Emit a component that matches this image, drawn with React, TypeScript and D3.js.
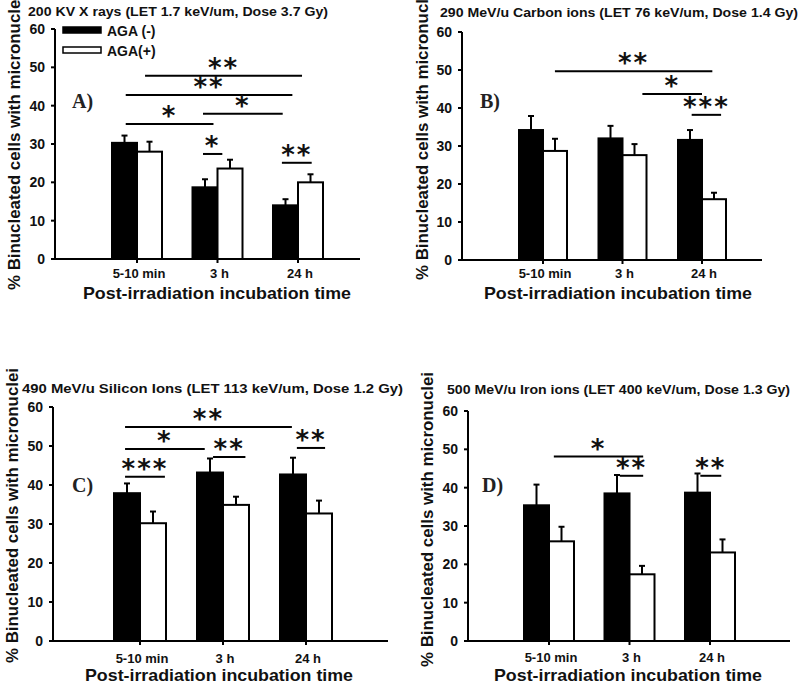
import React from "react";
import * as d3 from "d3";

const categories = ["5-10 min", "3 h", "24 h"];
const yTicks = [0, 10, 20, 30, 40, 50, 60];
const seriesNames = ["AGA (-)", "AGA(+)"];
const yLabel = "% Binucleated cells with micronuclei";
const xLabel = "Post-irradiation incubation time";

const titleA = "200 KV X rays (LET 1.7 keV/um, Dose 3.7 Gy)";
const titleB = "290 MeV/u Carbon ions (LET 76 keV/um, Dose 1.4 Gy)";
const titleC = "490 MeV/u Silicon Ions (LET 113 keV/um, Dose 1.2 Gy)";
const titleD = "500 MeV/u Iron ions (LET 400 keV/um, Dose 1.3 Gy)";

// AGA(-) means and errors, AGA(+) means and errors
const minusA = [30.3, 18.7, 14.0];
const minusErrA = [1.9, 2.1, 1.6];
const plusA = [28.0, 23.6, 20.0];
const plusErrA = [2.6, 2.3, 2.1];

const minusB = [34.2, 32.0, 31.6];
const minusErrB = [3.7, 3.3, 2.6];
const plusB = [28.7, 27.6, 16.0];
const plusErrB = [3.2, 2.9, 1.7];

const minusC = [37.9, 43.2, 42.7];
const minusErrC = [2.5, 3.6, 4.3];
const plusC = [30.2, 34.9, 32.7];
const plusErrC = [3.0, 2.1, 3.3];

const minusD = [35.4, 38.5, 38.7];
const minusErrD = [5.4, 4.8, 5.0];
const plusD = [26.0, 17.4, 23.1];
const plusErrD = [3.8, 2.2, 3.4];

// significance brackets: from/to in group units, level in data units
const sigA = [
  { label: "**", from: 0.1, to: 2.05, level: 47.8 },
  { label: "**", from: -0.14, to: 1.93, level: 42.8 },
  { label: "*", from: -0.14, to: 0.95, level: 35.2 },
  { label: "*", from: 0.82, to: 1.81, level: 37.9 },
  { label: "*", from: 0.82, to: 1.06, level: 27.4 },
  { label: "**", from: 1.8, to: 2.17, level: 25.1 },
];
const sigB = [
  { label: "**", from: 0.15, to: 2.13, level: 49.7 },
  { label: "*", from: 1.25, to: 2.0, level: 43.7 },
  { label: "***", from: 1.87, to: 2.24, level: 38.2 },
];
const sigC = [
  { label: "**", from: -0.18, to: 1.83, level: 54.9 },
  { label: "*", from: -0.18, to: 0.78, level: 49.2 },
  { label: "**", from: 0.88, to: 1.27, level: 47.2 },
  { label: "***", from: -0.18, to: 0.3, level: 42.1 },
  { label: "**", from: 1.89, to: 2.23, level: 49.5 },
];
const sigD = [
  { label: "*", from: 0.06, to: 1.17, level: 48.1 },
  { label: "**", from: 0.88, to: 1.17, level: 43.1 },
  { label: "**", from: 1.88, to: 2.14, level: 43.1 },
];

const SANS = "'Liberation Sans', Arial, sans-serif";
const SERIF = "'Liberation Serif', 'DejaVu Serif', serif";

const panels = [
  {
    tag: "A)", title: titleA, minus: minusA, minusErr: minusErrA, plus: plusA, plusErr: plusErrA, sig: sigA,
    axisX: 55, axisEnd: 360, y0: 259, yTop: 29, c0: 137, c2: 298, barW: 25,
    titleX: 28, titleY: 16, titleW: 300,
    tagX: 72, tagY: 108,
    yLabX: 20, yLabBottom: 290,
    tickY: 278, xTitleX: 217, xTitleY: 299, legend: true,
  },
  {
    tag: "B)", title: titleB, minus: minusB, minusErr: minusErrB, plus: plusB, plusErr: plusErrB, sig: sigB,
    axisX: 462, axisEnd: 762, y0: 260, yTop: 32, c0: 543, c2: 702, barW: 24,
    titleX: 440, titleY: 17, titleW: 358,
    tagX: 480, tagY: 108,
    yLabX: 428, yLabBottom: 280,
    tickY: 278, xTitleX: 618, xTitleY: 299, legend: false,
  },
  {
    tag: "C)", title: titleC, minus: minusC, minusErr: minusErrC, plus: plusC, plusErr: plusErrC, sig: sigC,
    axisX: 53, axisEnd: 388, y0: 641, yTop: 407, c0: 140, c2: 306, barW: 26,
    titleX: 22, titleY: 393, titleW: 381,
    tagX: 72, tagY: 492,
    yLabX: 18, yLabBottom: 663,
    tickY: 663, xTitleX: 219, xTitleY: 681, legend: false,
  },
  {
    tag: "D)", title: titleD, minus: minusD, minusErr: minusErrD, plus: plusD, plusErr: plusErrD, sig: sigD,
    axisX: 468, axisEnd: 790, y0: 641, yTop: 411, c0: 549, c2: 710, barW: 25,
    titleX: 447, titleY: 394, titleW: 343,
    tagX: 482, tagY: 492,
    yLabX: 433, yLabBottom: 667,
    tickY: 662, xTitleX: 628, xTitleY: 681, legend: false,
  },
];

function Panel({ p }: { p: any }) {
  const y = d3.scaleLinear().domain([0, 60]).range([p.y0, p.yTop]);
  const x = d3.scalePoint<string>().domain(categories).range([p.c0, p.c2]);
  const step = x.step();
  const gx = (u: number) => p.c0 + u * step;
  const bars: any[] = [];
  categories.forEach((c, i) => {
    const cx = x(c) as number;
    bars.push({ x: cx - p.barW, v: p.minus[i], e: p.minusErr[i], fill: "#000", key: "m" + i });
    bars.push({ x: cx, v: p.plus[i], e: p.plusErr[i], fill: "#fff", key: "p" + i });
  });
  return (
    <g>
      <text x={p.titleX} y={p.titleY} fontFamily={SANS} fontWeight="bold" fontSize={12.5}
        textLength={p.titleW} lengthAdjust="spacingAndGlyphs" fill="#111">{p.title}</text>
      <text transform={`translate(${p.yLabX},${p.yLabBottom}) rotate(-90)`} fontFamily={SANS}
        fontWeight="bold" fontSize={16} textLength={295} lengthAdjust="spacingAndGlyphs" fill="#111">{yLabel}</text>
      {bars.map((b) => (
        <g key={b.key}>
          <line x1={b.x + p.barW / 2} x2={b.x + p.barW / 2} y1={y(b.v)} y2={y(b.v + b.e)} stroke="#000" strokeWidth={2} />
          <line x1={b.x + p.barW / 2 - 3} x2={b.x + p.barW / 2 + 3} y1={y(b.v + b.e)} y2={y(b.v + b.e)} stroke="#000" strokeWidth={2} />
          <rect x={b.x} y={y(b.v)} width={p.barW} height={y(0) - y(b.v)} fill={b.fill} stroke="#000" strokeWidth={2} />
        </g>
      ))}
      <line x1={p.axisX} x2={p.axisX} y1={y(0)} y2={y(60)} stroke="#000" strokeWidth={2} />
      <line x1={p.axisX} x2={p.axisEnd} y1={y(0)} y2={y(0)} stroke="#000" strokeWidth={2} />
      {yTicks.map((t) => (
        <g key={t}>
          <line x1={p.axisX - 4} x2={p.axisX} y1={y(t)} y2={y(t)} stroke="#000" strokeWidth={2} />
          <text x={p.axisX - 10} y={y(t) + 5} textAnchor="end" fontFamily={SANS} fontWeight="bold" fontSize={14} fill="#111">{t}</text>
        </g>
      ))}
      {categories.map((c) => (
        <g key={c}>
          <line x1={x(c)} x2={x(c)} y1={y(0)} y2={y(0) + 4} stroke="#000" strokeWidth={2} />
          <text x={(x(c) as number) + 2} y={p.tickY} textAnchor="middle" fontFamily={SANS} fontWeight="bold" fontSize={13} fill="#111">{c}</text>
        </g>
      ))}
      <text x={p.xTitleX} y={p.xTitleY} textAnchor="middle" fontFamily={SANS} fontWeight="bold" fontSize={17}
        textLength={268} lengthAdjust="spacingAndGlyphs" fill="#111">{xLabel}</text>
      {p.sig.map((s: any, i: number) => (
        <g key={i}>
          <line x1={gx(s.from)} x2={gx(s.to)} y1={y(s.level)} y2={y(s.level)} stroke="#000" strokeWidth={2} />
          <text x={(gx(s.from) + gx(s.to)) / 2} y={y(s.level) + 1} textAnchor="middle" fontFamily="'DejaVu Sans', sans-serif"
            fontWeight="bold" fontSize={26} letterSpacing={2} fill="#111">{s.label}</text>
        </g>
      ))}
      <text x={p.tagX} y={p.tagY} fontFamily={SERIF} fontWeight="bold" fontSize={20} fill="#222">{p.tag}</text>
      {p.legend && (
        <g>
          <rect x={63} y={27} width={38} height={6} fill="#000" stroke="#000" strokeWidth={1.5} />
          <text x={107} y={36} fontFamily={SANS} fontWeight="bold" fontSize={14} fill="#111">{seriesNames[0]}</text>
          <rect x={63} y={47} width={38} height={6} fill="#fff" stroke="#000" strokeWidth={1.5} />
          <text x={107} y={56} fontFamily={SANS} fontWeight="bold" fontSize={14} fill="#111">{seriesNames[1]}</text>
        </g>
      )}
    </g>
  );
}

export default function App() {
  return (
    <svg width={800} height={685} style={{ position: "absolute", left: 0, top: 0, background: "#fff" }}>
      <rect x={0} y={0} width={800} height={685} fill="#fff" />
      {panels.map((p) => (
        <Panel key={p.tag} p={p} />
      ))}
    </svg>
  );
}
